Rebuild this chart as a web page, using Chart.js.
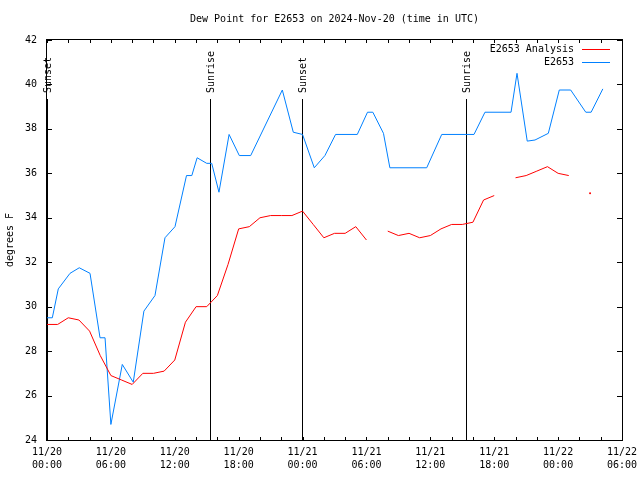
<!DOCTYPE html>
<html>
<head>
<meta charset="utf-8">
<script src="https://cdn.jsdelivr.net/npm/chart.js@4.4.1/dist/chart.umd.min.js"></script>
<style>
  html, body { margin: 0; padding: 0; background: #fff; }
</style>
</head>
<body>
<canvas id="dewChart" width="640" height="480"></canvas>
<script>
"use strict";

// hours since 11/20 00:00 UTC
const analysisHours = [0, 1, 2, 3, 4, 5, 6, 7, 8, 9, 10, 11, 12, 13, 14, 15, 16, 17, 18, 19,
  20, 21, 22, 23, 24, 25, 26, 27, 28, 29, 30, 31, 32, 33, 34, 35, 36, 37, 38, 39,
  40, 41, 42, 43, 44, 45, 46, 47, 48, 49, 50, 51];
const analysisDew = [29.2, 29.2, 29.5, 29.4, 28.9, 27.8, 26.9, 26.7, 26.5, 27.0, 27.0, 27.1, 27.6, 29.3, 30.0, 30.0, 30.5, 31.9, 33.5, 33.6,
  34.0, 34.1, 34.1, 34.1, 34.3, 33.7, 33.1, 33.3, 33.3, 33.6, 33.0, null, 33.4, 33.2, 33.3, 33.1, 33.2, 33.5, 33.7, 33.7,
  33.8, 34.8, 35.0, null, 35.8, 35.9, 36.1, 36.3, 36.0, 35.9, null, 35.1];

const obsHours = [0, 0.5, 1.06, 2.16, 3.03, 4.04, 4.98, 5.45, 6.0, 7.07, 8.1, 9.1, 10.14, 11.08, 12.02, 13.1, 13.6, 14.1, 15.0, 15.47,
  16.15, 17.1, 18.06, 19.13, 22.1, 23.13, 24.0, 25.1, 26.1, 27.1, 29.14, 30.1, 30.6, 31.6, 32.2, 35.66, 37.07, 40.1, 41.13, 43.58,
  44.14, 45.1, 45.83, 47.08, 48.11, 49.18, 50.6, 51.1, 52.2];
const obsDew = [29.5, 29.5, 30.8, 31.5, 31.75, 31.5, 28.6, 28.6, 24.7, 27.4, 26.6, 29.8, 30.5, 33.1, 33.6, 35.9, 35.9, 36.7, 36.45, 36.45,
  35.15, 37.75, 36.8, 36.8, 39.75, 37.85, 37.75, 36.25, 36.8, 37.75, 37.75, 38.75, 38.75, 37.8, 36.25, 36.25, 37.75, 37.75, 38.75, 38.75,
  40.5, 37.45, 37.5, 37.8, 39.75, 39.75, 38.75, 38.75, 39.8];

const sunHours = [0, 15.33, 23.98, 39.38];
const sunLabels = ['Sunset', 'Sunrise', 'Sunset', 'Sunrise'];

const seriesNames = ['E2653 Analysis', 'E2653'];
const seriesColors = ['#ff0000', '#0080ff'];

const FONT = 'DejaVu Sans Mono';

function hourLabel(h) {
  const day = 20 + Math.floor(h / 24);
  const hh = h % 24;
  return ['11/' + day, (hh < 10 ? '0' : '') + hh + ':00'];
}

// lone points (gaps on both sides) get a dot
function lonePoint(c) {
  const d = c.dataset.data;
  const i = c.dataIndex;
  if (d[i].y === null) return 0;
  const prev = d[i - 1], next = d[i + 1];
  return (!prev || prev.y === null) && (!next || next.y === null) ? 1 : 0;
}

// Sunrise / sunset markers
const sunPlugin = {
  id: 'sunLines',
  beforeDatasetsDraw(chart) {
    const { ctx, chartArea: a, scales: { x } } = chart;
    ctx.save();
    ctx.strokeStyle = '#000';
    ctx.lineWidth = 1;
    ctx.fillStyle = '#000';
    ctx.font = '10px ' + FONT;
    sunHours.forEach((h, i) => {
      const px = Math.round(x.getPixelForValue(h)) + 0.5;
      ctx.beginPath();
      ctx.moveTo(px, 99);
      ctx.lineTo(px, a.bottom);
      ctx.stroke();
      ctx.save();
      ctx.translate(px + 1, 93);
      ctx.rotate(-Math.PI / 2);
      ctx.textAlign = 'left';
      ctx.textBaseline = 'middle';
      ctx.fillText(sunLabels[i], 0, 0);
      ctx.restore();
    });
    ctx.restore();
  }
};

// gnuplot style frame with inward ticks, plus legend
const framePlugin = {
  id: 'frame',
  afterDraw(chart) {
    const { ctx, chartArea: a, scales: { x, y } } = chart;
    ctx.save();
    ctx.strokeStyle = '#000';
    ctx.lineWidth = 1;
    ctx.beginPath();
    x.ticks.forEach(t => {
      const px = Math.round(x.getPixelForValue(t.value)) + 0.5;
      ctx.moveTo(px, a.bottom); ctx.lineTo(px, a.bottom - 3);
      ctx.moveTo(px, a.top); ctx.lineTo(px, a.top + 3);
    });
    y.ticks.forEach(t => {
      const py = Math.round(y.getPixelForValue(t.value)) + 0.5;
      ctx.moveTo(a.left, py); ctx.lineTo(a.left + 5, py);
      ctx.moveTo(a.right, py); ctx.lineTo(a.right - 5, py);
    });
    ctx.stroke();
    ctx.strokeRect(Math.round(a.left) - 0.5, Math.round(a.top) - 0.5,
      Math.round(a.right - a.left) + 1, Math.round(a.bottom - a.top) + 1);

    // legend
    ctx.font = '10px ' + FONT;
    ctx.textAlign = 'right';
    ctx.textBaseline = 'middle';
    seriesNames.forEach((name, i) => {
      const ly = 49.5 + i * 13;
      ctx.fillStyle = '#000';
      ctx.fillText(name, 574, ly);
      ctx.strokeStyle = seriesColors[i];
      ctx.beginPath();
      ctx.moveTo(582, ly);
      ctx.lineTo(610, ly);
      ctx.stroke();
    });
    ctx.restore();
  }
};

Chart.defaults.font.family = FONT;
Chart.defaults.font.size = 10;
Chart.defaults.color = '#000';

const ctx = document.getElementById('dewChart');

new Chart(ctx, {
  type: 'line',
  data: {
    datasets: [{
      label: seriesNames[0],
      data: analysisHours.map((h, i) => ({ x: h, y: analysisDew[i] })),
      borderColor: seriesColors[0],
      backgroundColor: seriesColors[0],
      borderWidth: 1,
      pointRadius: lonePoint,
      pointBorderWidth: 0,
      pointHoverRadius: 0,
      tension: 0,
      spanGaps: false
    }, {
      label: seriesNames[1],
      data: obsHours.map((h, i) => ({ x: h, y: obsDew[i] })),
      borderColor: seriesColors[1],
      backgroundColor: seriesColors[1],
      borderWidth: 1,
      pointRadius: 0,
      tension: 0
    }]
  },
  options: {
    responsive: false,
    animation: false,
    devicePixelRatio: 1,
    layout: { padding: { left: 0, right: 18, top: 0, bottom: 0 } },
    plugins: {
      legend: { display: false },
      tooltip: { enabled: false },
      title: {
        display: true,
        text: 'Dew Point for E2653 on 2024-Nov-20 (time in UTC)',
        fullSize: false,
        font: { family: FONT, size: 10, weight: 'normal', lineHeight: 1.2 },
        color: '#000',
        padding: { top: 13, bottom: 15 }
      }
    },
    scales: {
      x: {
        type: 'linear',
        min: 0,
        max: 54,
        afterFit: s => { s.height = 40; s.paddingLeft = 0; s.paddingRight = 0; },
        grid: { display: false, drawTicks: false },
        border: { display: false },
        ticks: {
          stepSize: 2,
          autoSkip: false,
          maxTicksLimit: 100,
          maxRotation: 0,
          padding: 6,
          font: { family: FONT, size: 10, lineHeight: 1.3 },
          callback: v => (v % 6 === 0 ? hourLabel(v) : '')
        }
      },
      y: {
        min: 24,
        max: 42,
        afterFit: s => { s.width = 47; s.paddingTop = 0; s.paddingBottom = 0; },
        grid: { display: false, drawTicks: false },
        border: { display: false },
        ticks: { stepSize: 2, padding: 10 },
        title: {
          display: true,
          text: 'degrees F',
          font: { family: FONT, size: 10 },
          padding: { top: 4, bottom: 0 }
        }
      }
    }
  },
  plugins: [sunPlugin, framePlugin]
});
</script>
</body>
</html>
